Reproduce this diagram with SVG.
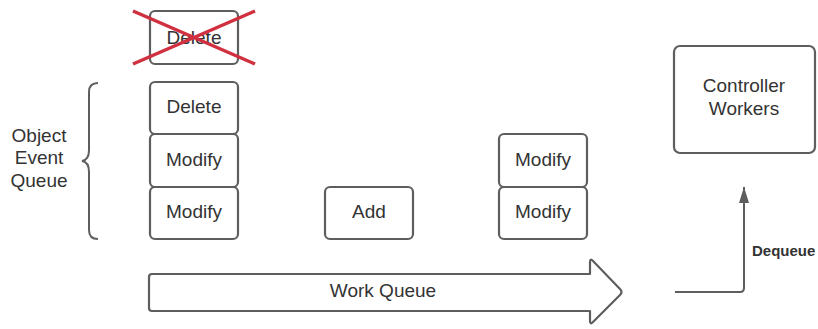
<svg xmlns="http://www.w3.org/2000/svg" width="818" height="329" viewBox="0 0 818 329">
<style>
.box{fill:#fff;stroke:#5e5e5e;stroke-width:2.2}
.t{font-family:"Liberation Sans",Arial,sans-serif;font-size:19px;fill:#333;text-anchor:middle}
.b{font-family:"Liberation Sans",Arial,sans-serif;font-size:15px;font-weight:bold;fill:#333}
.ln{fill:none;stroke:#5e5e5e;stroke-width:2}
</style>
<defs>
<marker id="ah" markerWidth="18" markerHeight="12" refX="17" refY="6" orient="auto" markerUnits="userSpaceOnUse" viewBox="0 0 18 12">
<path d="M17,6 L1,11 L1,1 Z" fill="#5e5e5e"/>
</marker>
</defs>
<g id="deleted">
<rect class="box" x="150" y="11" width="88" height="53" rx="5"/>
<text class="t" x="194" y="44">Delete</text>
<g stroke="#d0303f" stroke-width="3.5"><line x1="133" y1="11" x2="255" y2="64"/><line x1="133" y1="64" x2="255" y2="11"/></g>
</g>
<g id="oeq-label">
<text class="t" x="39" y="142">Object</text>
<text class="t" x="39" y="164">Event</text>
<text class="t" x="39" y="187">Queue</text>
</g>
<g id="brace">
<path class="ln" d="M98,83 Q89,83 89,92 L89,150 Q89,160 82,161 Q89,162 89,172 L89,230 Q89,239 98,239"/>
</g>
<g id="q-delete"><rect class="box" x="150" y="82" width="88" height="52" rx="5"/><text class="t" x="194" y="113">Delete</text></g>
<g id="q-modify1"><rect class="box" x="150" y="134" width="88" height="53" rx="5"/><text class="t" x="194" y="166">Modify</text></g>
<g id="q-modify2"><rect class="box" x="150" y="187" width="88" height="52" rx="5"/><text class="t" x="194" y="218">Modify</text></g>
<g id="add"><rect class="box" x="325" y="187" width="88" height="52" rx="5"/><text class="t" x="369" y="218">Add</text></g>
<g id="r-modify1"><rect class="box" x="499" y="134" width="88" height="53" rx="5"/><text class="t" x="543" y="166">Modify</text></g>
<g id="r-modify2"><rect class="box" x="499" y="187" width="88" height="52" rx="5"/><text class="t" x="543" y="218">Modify</text></g>
<g id="workers"><rect class="box" x="674" y="46" width="141" height="107" rx="6"/><text class="t" x="744" y="92">Controller</text><text class="t" x="744" y="115">Workers</text></g>
<g id="work-queue">
<path class="box" stroke-linejoin="round" d="M152,274 L590,274 L590,262 Q590,258 593,261 L620,289 Q623,292 620,295 L593,322 Q590,325 590,321 L590,311 L152,311 Q149,311 149,308 L149,277 Q149,274 152,274 Z"/>
<text class="t" x="383" y="297">Work Queue</text>
</g>
<g id="connectors">
<path class="ln" d="M675,292 L740,292 Q744,292 744,288 L744,187" marker-end="url(#ah)"/>
<text class="b" x="752" y="256">Dequeue</text>
</g>
</svg>
